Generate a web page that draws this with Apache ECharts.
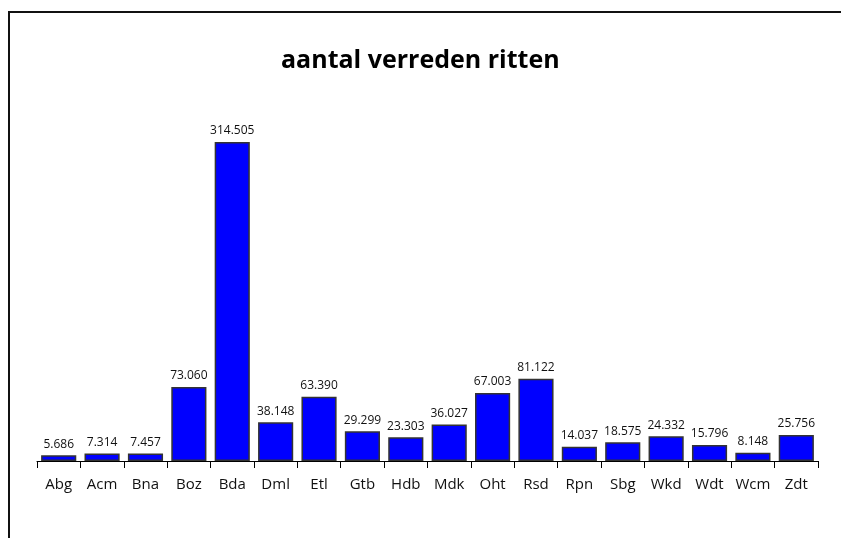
<!DOCTYPE html>
<html>
<head>
<meta charset="utf-8">
<script src="https://cdn.jsdelivr.net/npm/echarts@6/dist/echarts.min.js"></script>
<style>
  html, body { margin: 0; padding: 0; background: #fff; }
  #chart { width: 841px; height: 538px; }
</style>
</head>
<body>
<div id="chart"></div>
<script>
// stations en aantal ritten
var categories = ['Abg', 'Acm', 'Bna', 'Boz', 'Bda', 'Dml', 'Etl', 'Gtb', 'Hdb', 'Mdk', 'Oht', 'Rsd', 'Rpn', 'Sbg', 'Wkd', 'Wdt', 'Wcm', 'Zdt'];
var ritten = [5686, 7314, 7457, 73060, 314505, 38148, 63390, 29299, 23303, 36027, 67003, 81122, 14037, 18575, 24332, 15796, 8148, 25756];

function fmt(v) {
  // duizendtallen met punt
  return String(v).replace(/\B(?=(\d{3})+(?!\d))/g, '.');
}

var chart = echarts.init(document.getElementById('chart'), null, { renderer: 'canvas' });
var option = {
  backgroundColor: '#fff',
  animation: false,
  title: {
    text: 'aantal verreden ritten',
    left: 276,
    top: 43,
    textStyle: {
      fontFamily: 'Open Sans',
      fontSize: 25,
      fontWeight: 'bold',
      color: '#000'
    }
  },
  graphic: [{
    type: 'rect',
    shape: { x: 9, y: 12, width: 900, height: 600 },
    style: { fill: 'none', stroke: '#111', lineWidth: 2 },
    silent: true
  }],
  grid: { left: 37, right: 23, top: 106, bottom: 77, containLabel: false },
  xAxis: {
    type: 'category',
    data: categories,
    axisLine: { lineStyle: { color: '#000', width: 1 } },
    axisTick: { show: true, alignWithLabel: false, interval: 0, length: 7, lineStyle: { color: '#000' } },
    axisLabel: {
      interval: 0,
      hideOverlap: false,
      margin: 16,
      fontFamily: 'Open Sans',
      fontSize: 15,
      color: '#111'
    }
  },
  yAxis: {
    type: 'value',
    min: 0,
    max: 350000,
    show: false,
    splitLine: { show: false }
  },
  series: [{
    type: 'bar',
    data: ritten,
    barCategoryGap: '19%',
    itemStyle: {
      color: '#0000ff',
      borderColor: '#333',
      borderWidth: 1.5
    },
    label: {
      show: true,
      position: 'top',
      distance: 5,
      fontFamily: 'Open Sans',
      fontSize: 12,
      color: '#111',
      formatter: function (p) { return fmt(p.value); }
    }
  }]
};
chart.setOption(option);
</script>
</body>
</html>
